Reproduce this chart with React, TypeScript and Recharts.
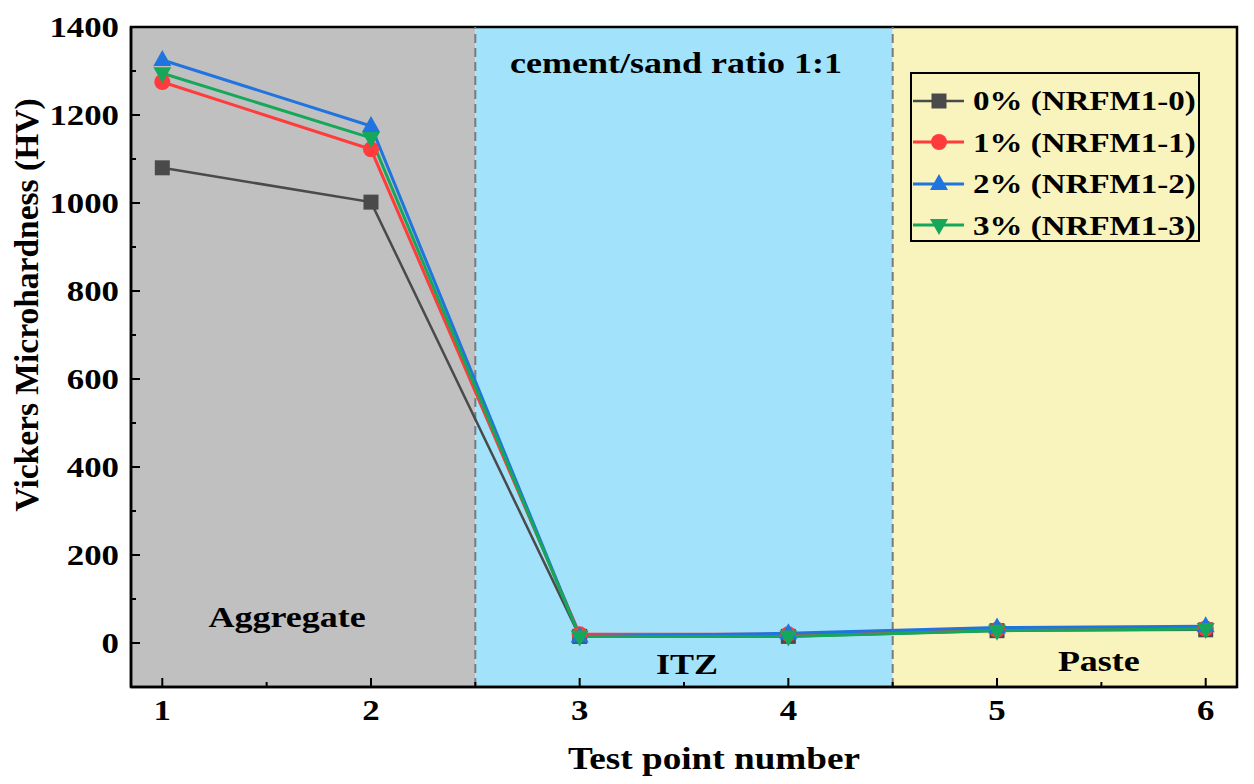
import React from "react"
import { Label, Legend, Line, LineChart, ReferenceArea, ReferenceLine, XAxis, YAxis } from "recharts"

const testPoints = [1, 2, 3, 4, 5, 6]
const hv0 = [1080, 1002, 15, 15, 28, 30]
const hv1 = [1275, 1122, 20, 20, 30, 33]
const hv2 = [1325, 1175, 15, 22, 35, 38]
const hv3 = [1295, 1148, 15, 15, 28, 32]

const xTicks = [1, 1.5, 2, 2.5, 3, 3.5, 4, 4.5, 5, 5.5, 6]
const yTicks = [0, 100, 200, 300, 400, 500, 600, 700, 800, 900, 1000, 1100, 1200, 1300, 1400]

const FONT = "'Liberation Serif', 'Times New Roman', serif"
const STRETCH = 1.2

type Series = { key: string; name: string; color: string; shape: string; width: number }

const series: Series[] = [
  { key: "s0", name: "0% (NRFM1-0)", color: "#4a4a4a", shape: "square", width: 2.5 },
  { key: "s1", name: "1% (NRFM1-1)", color: "#ff3b3b", shape: "circle", width: 3 },
  { key: "s2", name: "2% (NRFM1-2)", color: "#1f74e0", shape: "triangle", width: 3 },
  { key: "s3", name: "3% (NRFM1-3)", color: "#16a85a", shape: "down", width: 3 },
]

const data = testPoints.map((x, i) => ({ x, s0: hv0[i], s1: hv1[i], s2: hv2[i], s3: hv3[i] }))

// bold serif text, a bit wider than the font draws it (the figure is stretched sideways)
function SText({ x, y, size, anchor = "middle", children }: any) {
  return (
    <text
      transform={`translate(${x} ${y}) scale(${STRETCH} 1)`}
      textAnchor={anchor}
      fontFamily={FONT}
      fontWeight="bold"
      fontSize={size}
      fill="#000"
    >
      {children}
    </text>
  )
}

function Marker({ cx, cy, shape, color }: { cx: number; cy: number; shape: string; color: string }) {
  if (cx == null || cy == null) return null
  if (shape === "square") return <rect x={cx - 7.5} y={cy - 7.5} width={15} height={15} fill={color} />
  if (shape === "circle") return <circle cx={cx} cy={cy} r={8} fill={color} />
  if (shape === "triangle")
    return <polygon points={`${cx},${cy - 10} ${cx + 9},${cy + 6} ${cx - 9},${cy + 6}`} fill={color} />
  return <polygon points={`${cx},${cy + 10} ${cx + 9},${cy - 6} ${cx - 9},${cy - 6}`} fill={color} />
}

function XTick(props: any) {
  const { x, y, payload } = props
  const major = Number.isInteger(payload.value)
  return (
    <g>
      <line x1={x} x2={x} y1={y} y2={y - (major ? 9 : 5)} stroke="#000" strokeWidth={2} />
      {major && (
        <SText x={x} y={y + 33} size={29}>
          {payload.value}
        </SText>
      )}
    </g>
  )
}

function YTick(props: any) {
  const { x, y, payload } = props
  const major = payload.value % 200 === 0
  return (
    <g>
      <line x1={x} x2={x + (major ? 9 : 5)} y1={y} y2={y} stroke="#000" strokeWidth={2} />
      {major && (
        <SText x={x - 12} y={y + 10} size={29} anchor="end">
          {payload.value}
        </SText>
      )}
    </g>
  )
}

function LegendBox() {
  return (
    <div
      style={{
        border: "2px solid #000",
        width: 290,
        height: 170,
        boxSizing: "border-box",
        padding: "6px 0 0 0",
        fontFamily: FONT,
        fontWeight: "bold",
        fontSize: 27.5,
        color: "#000",
      }}
    >
      {series.map((s) => (
        <div key={s.key} style={{ display: "flex", alignItems: "center", height: 41.5 }}>
          <svg width={58} height={24} style={{ flex: "none" }}>
            <line x1={1} x2={52} y1={12} y2={12} stroke={s.color} strokeWidth={s.width} />
            <Marker cx={27} cy={12} shape={s.shape} color={s.color} />
          </svg>
          <span
            style={{
              marginLeft: 3,
              lineHeight: 1,
              whiteSpace: "nowrap",
              display: "inline-block",
              transform: `scaleX(${STRETCH})`,
              transformOrigin: "left center",
            }}
          >
            {s.name}
          </span>
        </div>
      ))}
    </div>
  )
}

export default function App() {
  return (
    <div style={{ position: "absolute", left: 0, top: 0, background: "#fff" }}>
      <LineChart width={1254} height={784} data={data} margin={{ top: 27, right: 17, left: 0, bottom: 0 }}>
        <XAxis
          dataKey="x"
          type="number"
          domain={[0.85, 6.15]}
          ticks={xTicks}
          interval={0}
          height={97}
          tickSize={0}
          tickMargin={0}
          tickLine={false}
          tick={<XTick />}
          axisLine={{ stroke: "#000", strokeWidth: 2.5 }}
          allowDataOverflow
        >
          <Label
            content={({ viewBox }: any) => (
              <SText x={viewBox.x + viewBox.width / 2 + 30} y={viewBox.y + 82} size={31}>
                Test point number
              </SText>
            )}
          />
        </XAxis>
        <YAxis
          type="number"
          domain={[-100, 1400]}
          ticks={yTicks}
          interval={0}
          width={131}
          tickSize={0}
          tickMargin={0}
          tickLine={false}
          tick={<YTick />}
          axisLine={{ stroke: "#000", strokeWidth: 2.5 }}
          allowDataOverflow
        >
          <Label
            content={({ viewBox }: any) => (
              <text
                x={38}
                y={viewBox.y + 278}
                transform={`rotate(-90 38 ${viewBox.y + 278})`}
                textAnchor="middle"
                fontFamily={FONT}
                fontWeight="bold"
                fontSize={33.5}
                fill="#000"
              >
                Vickers Microhardness (HV)
              </text>
            )}
          />
        </YAxis>

        <ReferenceArea x1={0.85} x2={2.5} y1={-100} y2={1400} fill="#c0c0c0" fillOpacity={1} stroke="none">
          <Label
            content={({ viewBox }: any) => (
              <SText x={viewBox.x + viewBox.width / 2 - 16} y={viewBox.y + viewBox.height - 60} size={30}>
                Aggregate
              </SText>
            )}
          />
        </ReferenceArea>
        <ReferenceArea x1={2.5} x2={4.5} y1={-100} y2={1400} fill="#a2e3fb" fillOpacity={1} stroke="none">
          <Label
            content={({ viewBox }: any) => (
              <SText x={viewBox.x + viewBox.width / 2 - 8} y={viewBox.y + 46} size={30}>
                cement/sand ratio 1:1
              </SText>
            )}
          />
        </ReferenceArea>
        <ReferenceArea x1={2.5} x2={4.5} y1={-100} y2={1400} fill="none" stroke="none">
          <Label
            content={({ viewBox }: any) => (
              <SText x={viewBox.x + viewBox.width / 2 + 3} y={viewBox.y + viewBox.height - 13} size={30}>
                ITZ
              </SText>
            )}
          />
        </ReferenceArea>
        <ReferenceArea x1={4.5} x2={6.15} y1={-100} y2={1400} fill="#f9f3bd" fillOpacity={1} stroke="none">
          <Label
            content={({ viewBox }: any) => (
              <SText x={viewBox.x + viewBox.width / 2 + 34} y={viewBox.y + viewBox.height - 16} size={30}>
                Paste
              </SText>
            )}
          />
        </ReferenceArea>
        <ReferenceLine x={2.5} stroke="#7a7a7a" strokeWidth={2} strokeDasharray="9 5" />
        <ReferenceLine x={4.5} stroke="#7a7a7a" strokeWidth={2} strokeDasharray="9 5" />
        <ReferenceArea x1={0.85} x2={6.15} y1={-100} y2={1400} fill="none" stroke="#000" strokeWidth={2.5} />

        {series.map((s) => (
          <Line
            key={s.key}
            dataKey={s.key}
            name={s.name}
            type="linear"
            stroke={s.color}
            strokeWidth={s.width}
            isAnimationActive={false}
            dot={(p: any) => <Marker key={`${s.key}-${p.index}`} cx={p.cx} cy={p.cy} shape={s.shape} color={s.color} />}
            activeDot={false}
          />
        ))}

        <Legend
          layout="horizontal"
          verticalAlign="middle"
          align="center"
          content={() => <LegendBox />}
          wrapperStyle={{ position: "absolute", left: 910, top: 72, width: 290 }}
        />
      </LineChart>
    </div>
  )
}
